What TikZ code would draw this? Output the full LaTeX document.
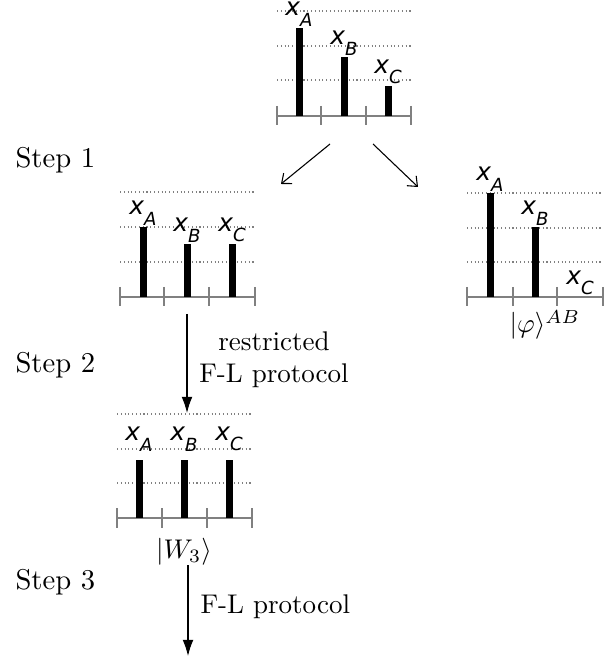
\documentclass[tikz,border=0pt]{standalone}
\usepackage{fontspec}
\usetikzlibrary{arrows.meta}
\newfontfamily\labfont{DejaVu Sans}
\newcommand{\xsub}[1]{x\raisebox{-3.8pt}{\fontsize{6.7}{6.7}\selectfont #1}}
\tikzset{
    dotline/.style={gray,densely dotted,line width=0.4pt},
    axisline/.style={gray,line width=0.6pt},
    xlab/.style={inner sep=0.5pt,anchor=south,font=\labfont\itshape\fontsize{9.2}{10}\selectfont},
    steplab/.style={inner sep=0pt,anchor=west,font=\fontsize{10.6}{12}\selectfont},
    steparrow/.style={-{Straight Barb[length=3pt,width=5pt]},line width=0.4pt},
    protarrow/.style={-{Latex[length=6pt,width=4pt]},line width=0.4pt}
}
\begin{document}
\begin{tikzpicture}[x=0.37pt,y=-0.37pt]
        \useasboundingbox (0,0) rectangle (613,660);
        % top: starting state
        \draw[dotline] (277,11)--(411,11) (277,46)--(411,46) (277,80)--(411,80);
        \draw[axisline] (277,116)--(411,116) (277,106)--(277,125) (321,106)--(321,125) (366,106)--(366,125) (411,106)--(411,125);
        \fill (295.5,116) rectangle (302.5,28);
        \fill (340.5,116) rectangle (347.5,57);
        \fill (384.5,116) rectangle (391.5,86);
        \node[xlab] (a1) at (299,28) {\xsub{A}};
        \node[xlab] (b1) at (344,57) {\xsub{B}};
        \node[xlab] (c1) at (388,86) {\xsub{C}};
        % step 1 split
        \node[steplab] (s1) at (15,160) {Step 1};
        \coordinate (l0) at (330,144);
        \coordinate (l1) at (281,184);
        \coordinate (r0) at (373,144);
        \coordinate (r1) at (418,187);
        \draw[steparrow] (l0)--(l1);
        \draw[steparrow] (r0)--(r1);
        % left branch
        \draw[dotline] (120,192)--(255,192) (120,227)--(255,227) (120,262)--(255,262);
        \draw[axisline] (120,297)--(255,297) (120,287)--(120,306) (164,287)--(164,306) (209,287)--(209,306) (255,287)--(255,306);
        \fill (139.5,297) rectangle (146.5,227);
        \fill (183.5,297) rectangle (190.5,244);
        \fill (228.5,297) rectangle (235.5,244);
        \node[xlab] (a2) at (143,227) {\xsub{A}};
        \node[xlab] (b2) at (187,244) {\xsub{B}};
        \node[xlab] (c2) at (232,244) {\xsub{C}};
        % right branch
        \draw[dotline] (467,193)--(603,193) (467,228)--(603,228) (467,262)--(603,262);
        \draw[axisline] (467,297)--(603,297) (467,287)--(467,306) (513,287)--(513,306) (557,287)--(557,306) (603,287)--(603,306);
        \fill (486.5,297) rectangle (493.5,193);
        \fill (531.5,297) rectangle (538.5,227);
        \node[xlab] (a3) at (490,193) {\xsub{A}};
        \node[xlab] (b3) at (535,227) {\xsub{B}};
        \node[xlab] (c3) at (580,297) {\xsub{C}};
        \node (phi) at (545,325) {$|\varphi\rangle^{AB}$};
        % step 2
        \node[steplab] (s2) at (15,365) {Step 2};
        \coordinate (m0) at (187,314);
        \coordinate (m1) at (187,413);
        \draw[protarrow] (m0)--(m1);
        \node[align=center] (rp) at (274,360) {restricted\\F-L protocol};
        % W state
        \draw[dotline] (117,414)--(252,414) (117,449)--(252,449) (117,483)--(252,483);
        \draw[axisline] (117,518)--(252,518) (117,508)--(117,528) (162,508)--(162,528) (207,508)--(207,528) (252,508)--(252,528);
        \fill (135.5,518) rectangle (142.5,460);
        \fill (180.5,518) rectangle (187.5,460);
        \fill (225.5,518) rectangle (232.5,460);
        \node[xlab] (a4) at (139,453) {\xsub{A}};
        \node[xlab] (b4) at (184,453) {\xsub{B}};
        \node[xlab] (c4) at (229,453) {\xsub{C}};
        \node (w3) at (184,552) {$|W_3\rangle$};
        % step 3
        \node[steplab] (s3) at (15,582) {Step 3};
        \coordinate (n0) at (188,565);
        \coordinate (n1) at (188,656);
        \draw[protarrow] (n0)--(n1);
        \node[anchor=west,inner sep=0pt] (fl) at (200,607) {F-L protocol};
    \end{tikzpicture}
\end{document}
